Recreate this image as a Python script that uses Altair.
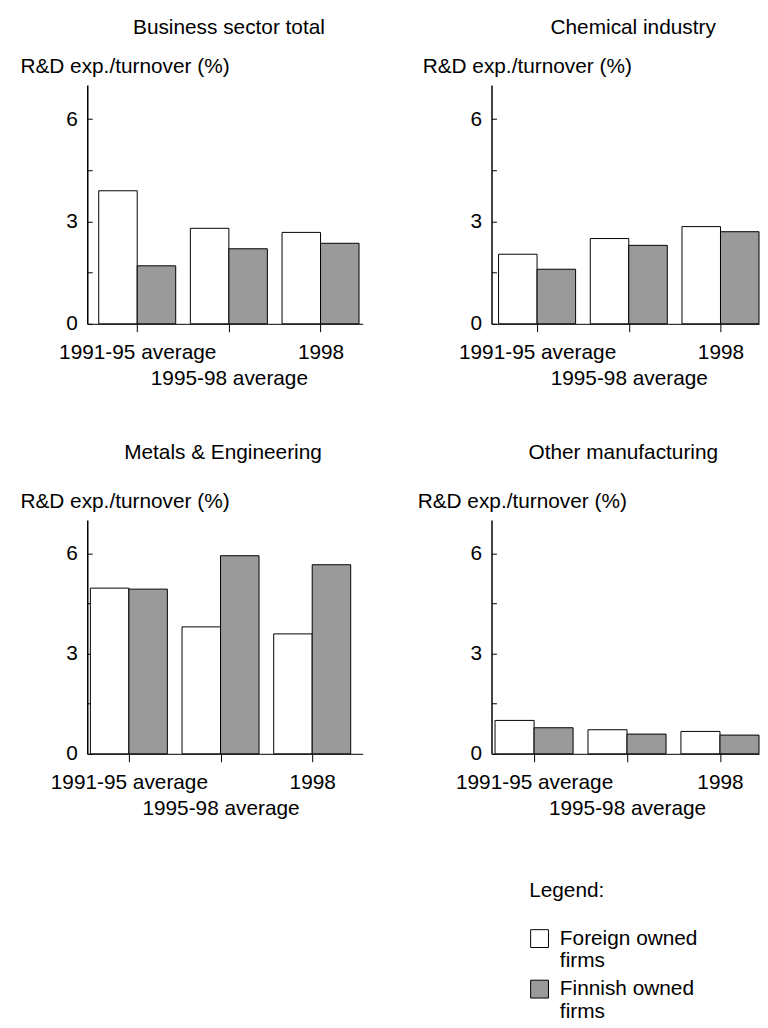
import json
import altair as alt
import pandas as pd

# ---------------- data ----------------
PANELS = ["Business sector total", "Chemical industry",
          "Metals & Engineering", "Other manufacturing"]
PERIODS = ["1991-95 average", "1995-98 average", "1998"]
OWNERS = ["Foreign owned firms", "Finnish owned firms"]

business_foreign = [3.9, 2.8, 2.68]
business_finnish = [1.7, 2.2, 2.36]
chemical_foreign = [2.04, 2.5, 2.85]
chemical_finnish = [1.6, 2.3, 2.7]
metals_foreign = [4.96, 3.8, 3.59]
metals_finnish = [4.93, 5.93, 5.66]
other_foreign = [1.0, 0.72, 0.67]
other_finnish = [0.78, 0.59, 0.56]

Y_TICKS = [0, 1.5, 3, 4.5, 6]
Y_MAX = 7
BAR_W = 0.42
FONT = "Liberation Sans"
FS = 21
HATCH = "#9a9a9a"


def make_df(foreign, finnish):
    rows = []
    for i, p in enumerate(PERIODS):
        rows.append({"period": p, "idx": i, "owner": OWNERS[0], "value": foreign[i]})
        rows.append({"period": p, "idx": i, "owner": OWNERS[1], "value": finnish[i]})
    return pd.DataFrame(rows)


def panel(name, foreign, finnish, width, height, xdom, title_dx, title_offset, ytitle_x):
    df = make_df(foreign, finnish)
    period_labels = json.dumps(PERIODS)
    base = alt.Chart(df).transform_calculate(
        x0=f"datum.owner == '{OWNERS[0]}' ? datum.idx - {BAR_W} : datum.idx",
    ).transform_calculate(
        x1=f"datum.x0 + {BAR_W}"
    )
    bars = base.mark_bar(stroke="black", strokeWidth=1).encode(
        x=alt.X("x0:Q",
                scale=alt.Scale(domain=xdom, nice=False, zero=False),
                axis=alt.Axis(values=[0, 1, 2],
                              labelExpr=f"{period_labels}[datum.value]",
                              title=None, tickSize=8, tickColor="black",
                              domainColor="black", domainWidth=1,
                              labelFlush=False, labelOverlap=False,
                              labelPadding={"condition": {"test": "datum.value == 1", "value": 36},
                                            "value": 10},
                              labelFontSize=FS, labelFont=FONT, labelColor="black",
                              grid=False)),
        x2="x1:Q",
        y=alt.Y("value:Q",
                scale=alt.Scale(domain=[0, Y_MAX], nice=False),
                axis=alt.Axis(values=Y_TICKS,
                              labelExpr="datum.value % 3 == 0 ? format(datum.value, 'd') : ''",
                              title="R&D exp./turnover (%)",
                              titleAngle=0, titleAlign="left", titleBaseline="alphabetic",
                              titleX=ytitle_x, titleY=-13,
                              titleFont=FONT, titleFontSize=FS, titleFontWeight="normal",
                              titleColor="black",
                              tickSize=alt.expr("-5"), tickColor="black",
                              domainColor="black", domainWidth=1.5,
                              labelPadding=15, labelFontSize=FS, labelFont=FONT,
                              labelColor="black", grid=False)),
        y2=alt.datum(0),
        fill=alt.Fill("owner:N",
                      scale=alt.Scale(domain=OWNERS, range=["white", HATCH]),
                      legend=alt.Legend(
                          title="Legend:", orient="none", legendX=446, legendY=803,
                          symbolType="square", symbolSize=324,
                          symbolStrokeColor="black", symbolStrokeWidth=1,
                          labelExpr="[slice(datum.label, 0, lastindexof(datum.label, ' ')), slice(datum.label, lastindexof(datum.label, ' ') + 1)]",
                          labelFont=FONT, labelFontSize=FS, labelColor="black",
                          titleFont=FONT, titleFontSize=FS, titleFontWeight="normal",
                          titleColor="black", titlePadding=27,
                          labelOffset=10, rowPadding=6, labelLimit=400)),
    ).properties(
        width=width, height=height,
        title=alt.TitleParams(text=name, anchor="middle", frame="group",
                              font=FONT, fontSize=FS, fontWeight="normal",
                              color="black", baseline="alphabetic",
                              offset=title_offset, dx=title_dx),
    )
    return bars


tl = panel(PANELS[0], business_foreign, business_finnish, 278, 241,
           [-0.545, 2.46], 4, 1, -68)
tr = panel(PANELS[1], chemical_foreign, chemical_finnish, 270, 241,
           [-0.497, 2.42], 8, 1, -70)
bl = panel(PANELS[2], metals_foreign, metals_finnish, 278, 236,
           [-0.454, 2.551], -2, 11, -68)
br = panel(PANELS[3], other_foreign, other_finnish, 270, 236,
           [-0.458, 2.42], -2, 11, -75)

chart = alt.concat(tl, tr, bl, br, columns=2,
                   spacing={"row": 198, "column": 130},
                   bounds="flush").properties(
    padding={"left": 12, "top": 4, "right": 0, "bottom": 2}
).configure(font=FONT).configure_view(stroke=None)

chart.save("out.html", embed_options={"renderer": "svg", "actions": False})
